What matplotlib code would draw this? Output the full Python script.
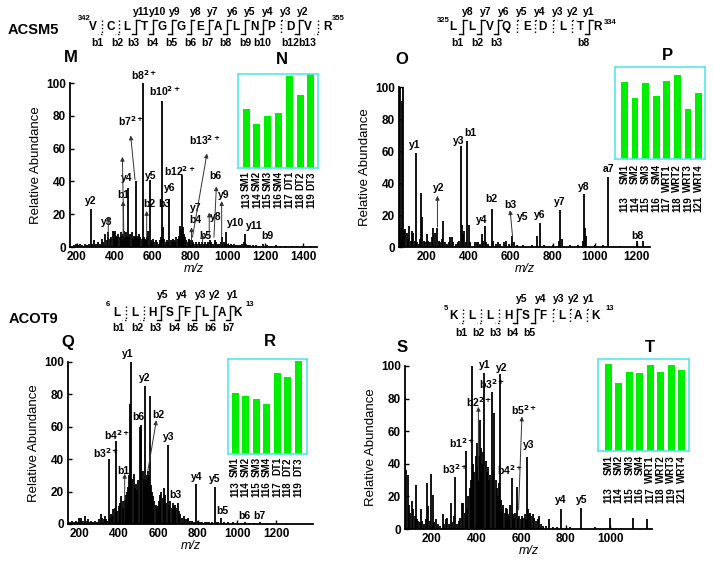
import matplotlib
matplotlib.use("Agg")
import matplotlib.pyplot as plt
from matplotlib.lines import Line2D

plt.rcParams["font.family"] = ["Liberation Sans", "DejaVu Sans"]
plt.rcParams["font.weight"] = "bold"
plt.rcParams["mathtext.default"] = "bf"
plt.rcParams["axes.linewidth"] = 1.3

W, H = 714, 568

# ---------------- spectra: (m/z, relative abundance) ----------------
m_peaks = [(185, 1), (195, 2), (205, 1.5), (215, 2), (228, 1), (240, 2), (252, 1.5), (262, 2),
           (273, 23), (282, 2), (290, 4), (300, 2), (312, 3), (322, 2), (331, 5), (340, 3),
           (349, 8), (357, 4), (366, 9), (374, 5), (382, 6), (390, 10), (396, 9), (402, 10),
           (408, 7), (414, 6), (420, 8), (426, 6), (432, 9), (438, 7), (444, 8), (450, 10),
           (456, 6), (462, 9), (467, 7), (472, 36), (478, 6), (484, 8), (490, 9), (496, 5),
           (502, 7), (507, 6), (513, 40), (519, 7), (525, 5), (531, 8), (537, 6), (543, 5),
           (549, 100), (555, 6), (561, 5), (567, 4), (573, 6), (579, 10), (585, 41), (591, 4),
           (597, 3), (604, 5), (611, 3), (618, 4), (626, 3), (633, 2), (640, 4), (646, 6),
           (653, 89), (658, 12), (664, 5), (671, 3), (678, 4), (684, 3), (690, 29), (697, 4),
           (703, 3), (710, 5), (716, 4), (722, 3), (728, 6), (734, 5), (740, 7), (745, 13),
           (750, 11), (756, 44), (762, 12), (768, 8), (774, 6), (780, 4), (787, 3), (795, 5),
           (802, 4), (808, 4), (815, 3), (822, 2), (830, 3), (838, 2), (846, 3), (855, 2),
           (866, 3), (874, 2), (882, 3), (890, 2), (898, 3), (906, 4), (914, 3), (922, 2),
           (930, 4), (938, 3), (946, 2), (955, 2), (963, 3), (970, 6), (978, 3), (985, 2),
           (991, 9), (998, 2), (1006, 1), (1015, 2), (1025, 1), (1035, 2), (1045, 1), (1055, 1.5),
           (1065, 1), (1075, 2), (1085, 3), (1092, 8), (1099, 2), (1110, 1), (1120, 1), (1135, 1),
           (1150, 1), (1165, 0.8), (1189, 2), (1210, 1), (1230, 0.8), (1255, 1), (1280, 0.6),
           (1310, 0.8), (1340, 0.6), (1370, 0.8), (1400, 0.5), (1440, 0.5)]

o_peaks = [(72, 100), (78, 12), (81, 91), (88, 100), (93, 10), (98, 11), (104, 9), (110, 5),
           (117, 13), (123, 4), (128, 10), (136, 9), (142, 4), (148, 59), (155, 3), (162, 2),
           (168, 5), (173, 34), (179, 19), (186, 4), (192, 3), (200, 8), (208, 4), (216, 3),
           (224, 6), (232, 12), (240, 9), (251, 12), (258, 4), (265, 3), (272, 5), (279, 16),
           (286, 3), (295, 2), (306, 3), (313, 6), (319, 6), (326, 3), (340, 2), (350, 3),
           (356, 4), (362, 63), (368, 14), (374, 8), (378, 10), (385, 3), (394, 66), (400, 14),
           (408, 3), (430, 3), (438, 3), (446, 3), (454, 2), (462, 8), (470, 4), (478, 13),
           (484, 3), (492, 2), (510, 24), (516, 4), (530, 2), (541, 3), (550, 2), (566, 3),
           (578, 4), (590, 2), (605, 7), (616, 3), (630, 1), (660, 1), (700, 1), (724, 7),
           (740, 15), (760, 1), (800, 1), (828, 4), (835, 23), (842, 5), (880, 1), (920, 1),
           (944, 4), (949, 33), (955, 12), (960, 7), (1000, 1), (1040, 1), (1065, 44),
           (1120, 0.5), (1203, 4), (1228, 4)]

q_peaks = [(150, 1), (160, 2), (172, 1), (180, 2), (190, 1.5), (198, 4), (208, 4), (216, 2),
           (225, 5), (234, 2), (242, 3), (250, 1.5), (260, 2), (270, 1.5), (280, 2), (290, 1.5),
           (300, 3), (310, 6), (316, 4), (322, 3), (328, 5), (333, 3), (340, 2), (347, 40),
           (354, 4), (360, 6), (366, 5), (372, 9), (378, 10), (386, 51), (392, 8), (398, 11),
           (405, 13), (412, 17), (418, 14), (423, 10), (429, 15), (435, 18), (441, 20), (446, 23),
           (452, 30), (458, 74), (463, 100), (468, 28), (474, 31), (480, 22), (486, 25), (492, 21),
           (498, 27), (505, 60), (510, 61), (514, 58), (520, 33), (526, 28), (531, 85), (536, 27),
           (541, 30), (547, 33), (551, 30), (556, 79), (562, 24), (568, 20), (574, 17), (580, 14),
           (586, 12), (592, 10), (598, 11), (604, 14), (610, 18), (616, 20), (622, 16), (629, 22),
           (635, 18), (641, 13), (649, 49), (655, 12), (661, 14), (667, 10), (673, 13), (679, 11),
           (685, 12), (692, 10), (698, 13), (704, 8), (712, 6), (720, 4), (728, 5), (736, 3),
           (744, 3), (752, 4), (760, 2), (770, 2), (780, 1.5), (793, 25), (800, 2), (810, 1),
           (822, 1.5), (835, 1), (848, 1.5), (860, 1), (875, 1.5), (886, 23), (895, 1), (905, 1),
           (920, 3.5), (935, 1), (955, 1), (980, 1), (1000, 0.8), (1020, 0.8), (1039, 1.5),
           (1060, 0.5), (1085, 0.5), (1115, 1.5), (1150, 0.5), (1200, 0.5), (1250, 0.5)]

s_peaks = [(80, 81), (86, 36), (92, 33), (98, 15), (104, 10), (110, 17), (118, 12), (124, 8),
           (128, 27), (134, 6), (140, 5), (145, 4), (151, 12), (158, 5), (165, 3), (172, 6),
           (178, 28), (185, 14), (191, 5), (197, 34), (204, 21), (210, 4), (219, 6), (226, 3),
           (238, 2), (249, 9), (256, 3), (262, 6), (267, 7), (276, 3), (285, 16), (292, 4),
           (298, 8), (305, 32), (312, 3), (320, 5), (328, 7), (335, 16), (342, 16), (347, 10),
           (352, 48), (358, 12), (364, 20), (370, 25), (375, 30), (379, 100), (384, 40), (390, 35),
           (396, 45), (403, 53), (408, 38), (412, 45), (417, 67), (422, 50), (427, 40), (431, 47),
           (436, 96), (441, 42), (446, 35), (451, 38), (456, 30), (462, 33), (469, 84), (475, 36),
           (481, 71), (486, 30), (491, 25), (496, 20), (501, 28), (506, 95), (511, 18), (516, 12),
           (521, 15), (526, 10), (531, 13), (536, 12), (541, 9), (546, 8), (551, 15), (558, 31),
           (563, 9), (568, 7), (575, 10), (581, 26), (587, 7), (593, 8), (599, 6), (604, 8),
           (610, 7), (616, 9), (621, 6), (626, 44), (631, 12), (636, 9), (641, 10), (646, 8),
           (652, 9), (660, 7), (667, 5), (674, 6), (681, 8), (690, 3), (700, 2), (712, 2),
           (726, 6), (745, 1), (760, 1.5), (780, 12), (820, 1), (868, 13), (930, 1), (1000, 7),
           (1050, 0.8), (1104, 7), (1164, 6)]

# fragment ion labels: (text, m/z, abundance)
m_labels = [("y2", 273, 28), ("y3", 360, 15.5), ("b1", 446, 32), ("y4", 464, 42),
            ("y5", 591, 43), ("b7$^{2+}$", 485, 77), ("b8$^{2+}$", 556, 105),
            ("b10$^{2+}$", 668, 95), ("b2", 584, 26), ("b3", 662, 26), ("y6", 694, 36),
            ("b12$^{2+}$", 744, 46), ("b13$^{2+}$", 880, 65), ("y7", 831, 24), ("b4", 831, 16.5),
            ("b5", 884, 7), ("y8", 937, 18.5), ("b6", 937, 43), ("y9", 981, 32),
            ("y10", 1043, 14.5), ("y11", 1140, 13), ("b9", 1211, 7)]
m_arrows = [(366, 6, 366, 18.5), (449, 6, 441, 55), (445, 8, 445, 28), (508, 41, 485, 68),
            (570, 6, 570, 22), (813, 6, 890, 57), (808, 4, 808, 12), (866, 3, 866, 8),
            (902, 6, 902, 21), (927, 6, 940, 37), (968, 6, 968, 28)]

o_labels = [("y1", 144, 63.5), ("y2", 256, 37), ("y3", 351, 66), ("b1", 406, 71), ("y4", 462, 17),
            ("b2", 506, 30), ("b3", 600, 26.5), ("y5", 655, 19), ("y6", 740, 20), ("y7", 835, 28),
            ("y8", 949, 37.5), ("a7", 1065, 49), ("b8", 1205, 7)]
o_arrows = [(251, 12.5, 251, 32), (609, 6, 597, 23)]

q_labels = [("b3$^{2+}$", 336, 44), ("b4$^{2+}$", 390, 55), ("b1", 424, 33), ("b6", 497, 66),
            ("y2", 530, 90), ("y1", 446, 105), ("b2", 598, 67), ("y3", 654, 53.5), ("b3", 688, 17.6),
            ("y4", 793, 29), ("y5", 886, 28), ("b5", 925, 8), ("b6", 1039, 5), ("b7", 1115, 5)]
q_arrows = [(429, 15, 429, 31), (547, 33, 590, 64)]

s_labels = [("b3$^{2+}$", 303, 37), ("b1$^{2+}$", 336, 52.5), ("b2$^{2+}$", 412, 78),
            ("b3$^{2+}$", 469, 89), ("y1", 439, 100.5), ("y2", 515, 99), ("b5$^{2+}$", 614, 73),
            ("y3", 634, 51.5), ("b4$^{2+}$", 551, 36), ("y4", 780, 18), ("y5", 873, 18)]
s_arrows = [(409, 30, 409, 75), (589, 12, 604, 69)]

# ---------------- TMT reporter insets (% of box height) ----------------
n_names = ["SM1", "SM2", "SM3", "SM4", "DT1", "DT2", "DT3"]
n_nums = ["113", "114", "115", "116", "117", "118", "119"]
n_vals = [63, 47, 55, 59, 98, 78, 100]

p_names = ["SM1", "SM2", "SM3", "SM4", "WRT1", "WRT2", "WRT3", "WRT4"]
p_nums = ["113", "114", "115", "116", "117", "118", "119", "121"]
p_vals = [84, 66, 83, 69, 85, 91, 54, 72]

r_names = n_names
r_nums = n_nums
r_vals = [64, 61, 58, 53, 85, 81, 98]

t_names = p_names
t_nums = p_nums
t_vals = [95, 74, 86, 85, 93, 86, 93, 88]

fig = plt.figure(figsize=(W / 100, H / 100), dpi=100)


def rect(l, t, r, b):
    return [l / W, 1 - b / H, (r - l) / W, (b - t) / H]


def ftext(x, y, s, **kw):
    fig.text(x / W, 1 - y / H, s, **kw)


def spectrum(box, peaks, xlim, xticks, labels, arrows):
    ax = fig.add_axes(rect(*box))
    mz, inten = zip(*peaks)
    ax.vlines(mz, 0, inten, color="black", lw=1.3)
    ax.set_xlim(*xlim)
    ax.set_ylim(0, 100)
    ax.set_xticks(xticks)
    ax.set_yticks(range(0, 101, 20))
    for s in ("top", "right"):
        ax.spines[s].set_visible(False)
    ax.tick_params(direction="in", length=3, width=1, labelsize=8.5, pad=3)
    ax.set_xlabel("m/z", fontstyle="italic", fontsize=9, labelpad=0)
    ax.set_ylabel("Relative Abundance", fontsize=9.5, labelpad=3)
    for text, x, y in labels:
        ax.text(x, y, text, ha="center", va="center", fontsize=7.5, clip_on=False)
    for x0, y0, x1, y1 in arrows:
        ax.annotate("", xy=(x1, y1), xytext=(x0, y0),
                    arrowprops=dict(arrowstyle="-|>", color="#333333", lw=0.7,
                                    mutation_scale=6, shrinkA=0, shrinkB=0))
    return ax


def inset(box, vals, names, nums, xlim, name_gap, num_gap):
    ax = fig.add_axes(rect(*box))
    ax.bar(range(len(vals)), vals, width=0.65, color="#00ee00")
    ax.set_xlim(*xlim)
    ax.set_ylim(0, 100)
    ax.set_xticks([])
    ax.set_yticks([])
    for s in ax.spines.values():
        s.set_color("#55e8e8")
        s.set_linewidth(1.2)
    bh = box[3] - box[1]
    tr = ax.get_xaxis_transform()
    for i, (nm, nu) in enumerate(zip(names, nums)):
        ax.text(i, -name_gap / bh, nm, rotation=90, ha="center", va="top",
                fontsize=7, transform=tr)
        ax.text(i, -num_gap / bh, nu, rotation=90, ha="center", va="bottom",
                fontsize=7, transform=tr)


def sequence(res, xs, y, gaps, start, start_xy, end, end_xy,
             y_ions, y_x, y_y, b_ions, b_x, b_y):
    for r, x in zip(res, xs):
        ftext(x, y, r, ha="center", va="center", fontsize=8.5)
    ftext(*start_xy, start, ha="center", va="center", fontsize=5.5)
    ftext(*end_xy, end, ha="center", va="center", fontsize=5.5)
    for i, g in enumerate(gaps):
        xm = (xs[i] + xs[i + 1]) / 2
        ls = "-" if g == "yb" else ":"
        pts = [(xm, y - 7), (xm, y + 7)]
        fig.add_artist(Line2D([p[0] / W for p in pts], [1 - p[1] / H for p in pts],
                              color="black", lw=1, ls=ls))
        if "y" in g:
            fig.add_artist(Line2D([xm / W, (xm + 4) / W], [1 - (y - 7) / H] * 2,
                                  color="black", lw=1, ls=ls))
        if "b" in g:
            fig.add_artist(Line2D([xm / W, (xm - 4) / W], [1 - (y + 7) / H] * 2,
                                  color="black", lw=1, ls=ls))
    for nm, x in zip(y_ions, y_x):
        ftext(x, y_y, nm, ha="center", va="center", fontsize=7.5)
    for nm, x in zip(b_ions, b_x):
        ftext(x, b_y, nm, ha="center", va="center", fontsize=7.5)


# ---------------- spectra ----------------
spectrum((70, 83, 317, 247), m_peaks, (163, 1474), range(200, 1401, 200), m_labels, m_arrows)
spectrum((399, 87, 650, 247), o_peaks, (68, 1263), range(200, 1201, 200), o_labels, o_arrows)
spectrum((68, 362, 313, 524), q_peaks, (141, 1386), range(200, 1201, 200), q_labels, q_arrows)
spectrum((405, 366, 652, 529), s_peaks, (80, 1187), range(200, 1001, 200), s_labels, s_arrows)

# ---------------- insets ----------------
inset((238, 74, 318, 168), n_vals, n_names, n_nums, (-0.75, 6.65), 3, 40)
inset((615, 67, 705, 159), p_vals, p_names, p_nums, (-0.89, 7.6), 5, 53)
inset((228, 359, 307, 454), r_vals, r_names, r_nums, (-0.68, 6.83), 3, 43)
inset((598, 359, 689, 451), t_vals, t_names, t_nums, (-0.99, 7.71), 4, 52)

# ---------------- peptide sequences ----------------
sequence(list("VCLTGGEALNPDVR"), [93, 111, 127, 144, 162, 181, 200, 218, 236, 254, 271, 290, 308, 327],
         27, ["b", "b", "yb", "yb", "yb", "yb", "yb", "yb", "yb", "yb", "y", "yb", "b"],
         "342", (84, 18), "355", (338, 19),
         ["y11", "y10", "y9", "y8", "y7", "y6", "y5", "y4", "y3", "y2"],
         [141, 158, 175, 196, 213, 233, 250, 268, 286, 303], 12,
         ["b1", "b2", "b3", "b4", "b5", "b6", "b7", "b8", "b9", "b10", "b12", "b13"],
         [97, 117, 133, 152, 171, 190, 207, 225, 245, 262, 290, 307], 43)

sequence(list("LLVQEDLTR"), [453, 472, 490, 506, 527, 542, 563, 580, 597],
         27, ["yb", "yb", "yb", "y", "y", "y", "y", "yb"],
         "325", (443, 20), "334", (610, 22),
         ["y8", "y7", "y6", "y5", "y4", "y3", "y2", "y1"],
         [468, 486, 504, 522, 540, 558, 573, 589], 12,
         ["b1", "b2", "b3", "b8"], [457, 477, 496, 583], 43)

sequence(list("LLHSFLAK"), [117, 135, 152, 170, 187, 205, 222, 238],
         313, ["b", "b", "yb", "yb", "yb", "yb", "yb"],
         "6", (108, 305), "13", (250, 305),
         ["y5", "y4", "y3", "y2", "y1"], [163, 182, 201, 215, 233], 295,
         ["b1", "b2", "b3", "b4", "b5", "b6", "b7"], [118, 137, 155, 174, 192, 210, 228], 328)

sequence(list("KLLHSFLAK"), [453, 472, 490, 508, 526, 543, 562, 578, 596],
         316, ["b", "b", "b", "yb", "yb", "y", "y", "y"],
         "5", (446, 309), "13", (610, 308),
         ["y5", "y4", "y3", "y2", "y1"], [522, 541, 559, 574, 589], 299,
         ["b1", "b2", "b3", "b4", "b5"], [461, 478, 495, 512, 529], 333)

# ---------------- titles and panel letters ----------------
ftext(33, 30, "ACSM5", ha="center", va="center", fontsize=10.5)
ftext(33, 319, "ACOT9", ha="center", va="center", fontsize=10.5)
for letter, x, y in [("M", 71, 57), ("N", 282, 60), ("O", 402, 60), ("P", 667, 55),
                     ("Q", 68, 342), ("R", 270, 342), ("S", 402, 348), ("T", 650, 348)]:
    ftext(x, y, letter, ha="center", va="center", fontsize=12)

fig.savefig("out.png", dpi=100)
